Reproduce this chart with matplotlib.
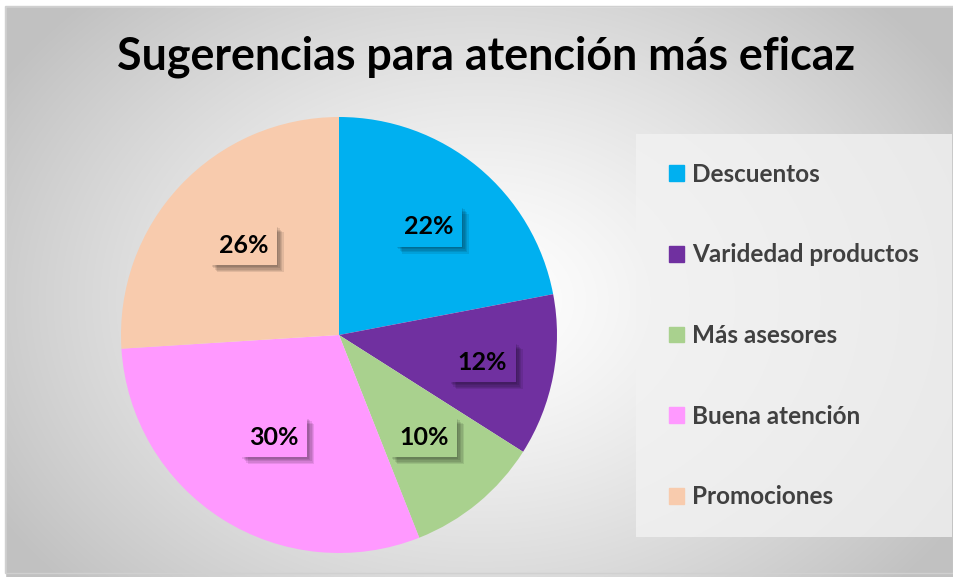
import numpy as np
import matplotlib
matplotlib.use("Agg")
import matplotlib.pyplot as plt
from matplotlib.patches import Rectangle
import matplotlib.patheffects as pe

title = "Sugerencias para atención más eficaz"
categories = ["Descuentos", "Varidedad productos", "Más asesores", "Buena atención", "Promociones"]
values = [22, 12, 10, 30, 26]
colors = ["#00b0f0", "#7030a0", "#a9d18e", "#ff99ff", "#f8cbad"]
label_dist = [0.645, 0.67, 0.61, 0.555, 0.60]

plt.rcParams['font.family'] = ['Lato', 'DejaVu Sans']

W, H = 954, 577
fig = plt.figure(figsize=(W / 100, H / 100), dpi=100)

# background radial gradient
bg = fig.add_axes([0, 0, 1, 1])
yy, xx = np.mgrid[0:H, 0:W]
cx, cy = 480, 300
d = np.sqrt(((xx - cx) / 560.0) ** 2 + ((yy - cy) / 420.0) ** 2)
g = np.clip(1.0 - 0.24 * d ** 1.3, 0.76, 1.0)
img = np.dstack([g, g, g])
bg.imshow(img, extent=[0, W, H, 0], aspect='auto', interpolation='bilinear')
bg.set_xlim(0, W)
bg.set_ylim(H, 0)
bg.axis('off')
bg.add_patch(Rectangle((0, 0), W, 6, color='white', zorder=2))
bg.add_patch(Rectangle((0, 0), 5, H, color='white', zorder=2))
bg.add_patch(Rectangle((5, 6), W - 6, H - 10, fill=False, ec='#d0d0d0', lw=1, zorder=3))
# legend background
bg.add_patch(Rectangle((636, 134), 316, 403, color='#f2f2f2', alpha=0.8, lw=0, zorder=2))

fig.text(486 / W, 1 - 57 / H, title, ha='center', va='center', fontsize=32.2,
         fontweight='bold', color='black')

# pie
cxp, cyp, r = 339, 335, 218
ax = fig.add_axes([(cxp - r) / W, (H - cyp - r) / H, 2 * r / W, 2 * r / H])
ax.set_facecolor('none')
wedges, texts, autotexts = ax.pie(values, colors=colors, startangle=90, counterclock=False,
                                  autopct='%1.0f%%', pctdistance=1.0,
                                  wedgeprops=dict(linewidth=0))
ax.set_xlim(-1, 1)
ax.set_ylim(-1, 1)
ax.set_aspect('auto')
shadow = [pe.SimplePatchShadow(offset=(o, -o), shadow_rgbFace='black', alpha=0.09)
          for o in (1, 2, 3, 4, 5)]
for t, c, k in zip(autotexts, colors, label_dist):
    x, y = t.get_position()
    t.set_position((x * k, y * k))
    t.set_fontsize(18)
    t.set_fontweight('bold')
    t.set_color('black')
    t.set_bbox(dict(boxstyle='square,pad=0.34', fc=c, ec='none'))
    t.get_bbox_patch().set_path_effects(shadow + [pe.Normal()])

# legend
handles = [Rectangle((0, 0), 1, 1, color=c) for c in colors]
leg = fig.legend(handles, categories, loc='upper left',
                 bbox_to_anchor=(647 / W, 1 - 141 / H), frameon=False,
                 handlelength=0.62, handleheight=0.62, handletextpad=0.35,
                 labelspacing=2.37, prop=dict(size=17.5, weight='bold'))
for t in leg.get_texts():
    t.set_color('#404040')

fig.savefig('out.png', dpi=100)
